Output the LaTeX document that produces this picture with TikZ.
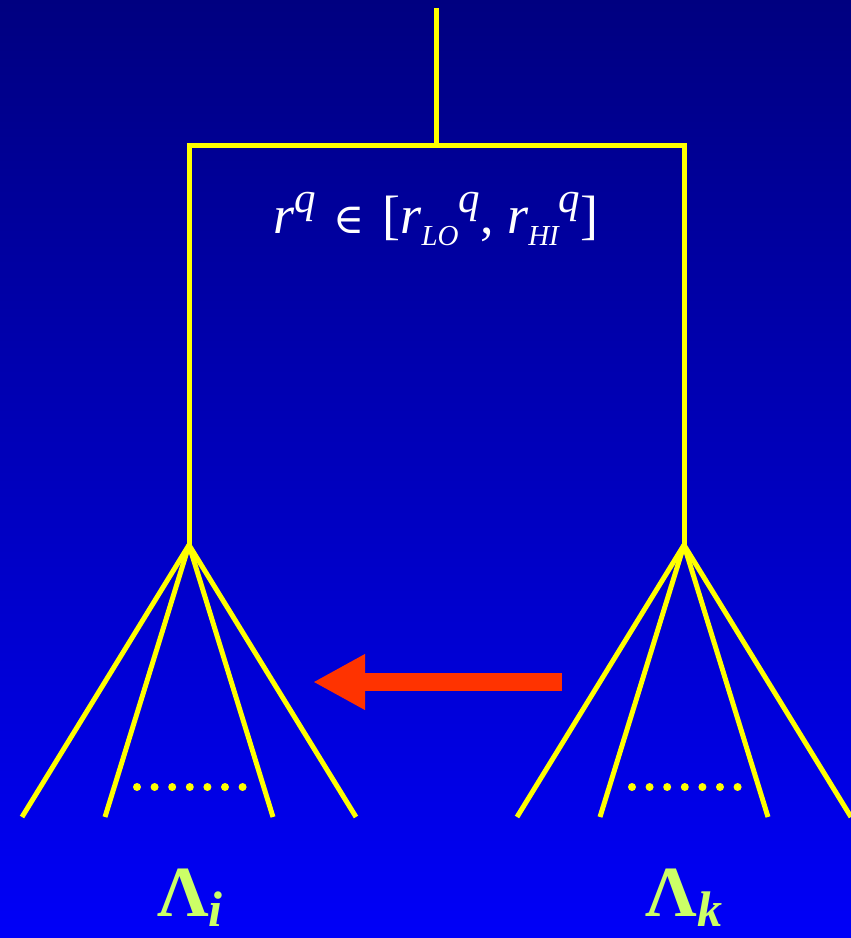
\documentclass[tikz,border=0pt]{standalone}
\usepackage{fontspec}
\setmainfont{Liberation Serif}
\newfontfamily\symbolfont{DejaVu Serif}
\usepackage{xcolor}
\usetikzlibrary{arrows.meta,calc}
\definecolor{skyTop}{HTML}{000080}
\definecolor{skyBottom}{HTML}{0000F8}
\definecolor{branchYellow}{HTML}{FFFF00}
\definecolor{moveRed}{HTML}{FF3300}
\definecolor{leafGreen}{HTML}{CCFF66}
\newcommand{\rup}[1]{\raisebox{21pt}{\fontsize{43}{43}\selectfont\itshape #1}}
\newcommand{\rdown}[1]{\raisebox{-12pt}{\fontsize{29}{29}\selectfont\itshape #1}}

\begin{document}
\begin{tikzpicture}[x=1pt, y=-1pt,
    branch/.style={draw=branchYellow, line width=5pt},
    leafdot/.style={circle, fill=branchYellow, inner sep=0pt, minimum size=8pt},
    setlabel/.style={text=leafGreen, anchor=base, inner sep=1pt,
      font=\fontsize{72}{72}\selectfont\bfseries}]
  \fill[top color=skyTop, bottom color=skyBottom] (0,0) rectangle (851,938);
  \useasboundingbox (0,0) rectangle (851,938);

  \coordinate (root) at (436,8);
  \coordinate (split) at (436,145);
  \coordinate (lcorner) at (189,145);
  \coordinate (rcorner) at (684,145);
  \coordinate (lhub) at (189,545);
  \coordinate (rhub) at (684,545);

  \draw[branch] (root) -- (split);
  \draw[branch, line cap=rect] (lhub) -- (lcorner) -- (rcorner) -- (rhub);

  \foreach \dx [count=\n] in {-167,-84,84,167} {
    \coordinate (lleaf\n) at ($(lhub)+(\dx,272)$);
    \coordinate (rleaf\n) at ($(rhub)+(\dx,272)$);
    \draw[branch] (lhub) -- (lleaf\n);
    \draw[branch] (rhub) -- (rleaf\n);
  }

  \foreach \n in {0,...,6} {
    \node[leafdot] (ldot\n) at (137+17.6*\n,787) {};
    \node[leafdot] (rdot\n) at (632+17.6*\n,787) {};
  }

  \coordinate (movetail) at (562,682);
  \coordinate (movehead) at (313,682);
  \draw[moveRed, line width=18pt, -{Triangle[length=52pt,width=52pt]}] (movetail) -- (movehead);

  \node[text=white, anchor=base, inner sep=1pt, font=\fontsize{54}{54}\selectfont] (range) at (436,233)
    {\textit{r}\rup{q}\hspace{17pt}{\symbolfont\fontsize{42}{42}\selectfont ∈}\hspace{18pt}[\textit{r}\rdown{LO}\rup{q}, \textit{r}\rdown{HI}\rup{q}]};

  \node[setlabel] (lambdai) at (190,916)
    {Λ\raisebox{-10pt}{\fontsize{50}{50}\selectfont\itshape i}};
  \node[setlabel] (lambdak) at (684,916)
    {Λ\raisebox{-10pt}{\fontsize{50}{50}\selectfont\itshape k}};
\end{tikzpicture}
\end{document}
